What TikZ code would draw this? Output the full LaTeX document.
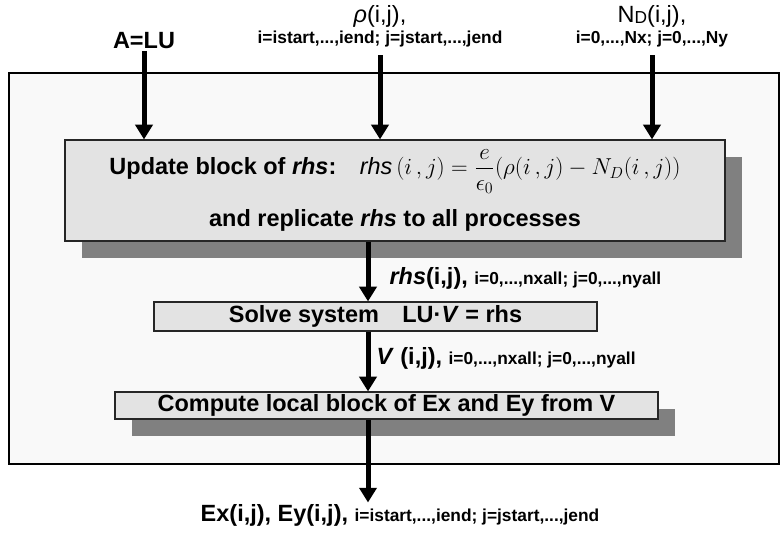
\documentclass[tikz,border=0pt]{standalone}
\usepackage{amsmath}
\usepackage{fontspec}
\setmainfont{Liberation Sans}
\usetikzlibrary{arrows.meta,shadows,positioning}

\newcommand{\bigtxt}{\fontsize{17.6}{20}\selectfont}
\newcommand{\rngtxt}{\fontsize{13}{15}\selectfont}

\begin{document}
\begin{tikzpicture}[x=0.75pt, y=-0.75pt,
    box/.style={draw=black!85, line width=0.9pt, fill=gray!22, inner sep=0pt, font=\bigtxt\bfseries},
    shd/.style={drop shadow={shadow xshift=12.75pt, shadow yshift=-12.75pt, fill=gray, opacity=1}},
    arr/.style={-{Triangle[length=11pt,width=12.75pt]}, line width=3.75pt},
    lbl/.style={font=\bigtxt\bfseries, inner sep=1pt},
    rng/.style={font=\rngtxt\bfseries, inner sep=1pt},
  ]
    \useasboundingbox (0,0) rectangle (780,536);

    % === frame round the parallel part ===
    \draw[line width=1.1pt, fill=gray!5] (9,73) rectangle (779,464);

    % === inputs ===
    \node[lbl] (alu) at (144,41) {A=LU};
    \node[lbl, font=\bigtxt] (rho) at (380,16) {\textit{ρ}(i,j),};
    \node[rng] (rhorng) at (380,39) {i=istart,...,iend; j=jstart,...,jend};
    \node[lbl, font=\bigtxt] (nd) at (652,16) {N{\rngtxt\raisebox{-1pt}{D}}(i,j),};
    \node[rng] (ndrng) at (652,39) {i=0,...,Nx; j=0,...,Ny};

    % === blocks ===
    \node[box, shd, minimum width=495pt, minimum height=75.75pt, align=center] (upd) at (395,190.5)
      {Update block of \textit{rhs}:\hspace{1em}$\mathit{rhs}\,(i\,,j)=\dfrac{e}{\epsilon_0}(\rho(i\,,j)-N_D(i\,,j))$\\[11pt]
       and replicate \textit{rhs} to all processes};
    \node[box, minimum width=332.25pt, minimum height=21.75pt] (solve) at (375.5,316.5)
      {Solve system\quad LU·\textit{V} = rhs};
    \node[box, shd, minimum width=407.25pt, minimum height=20.25pt] (comp) at (386.5,405.5)
      {Compute local block of Ex and Ey from V};

    % === data passed between blocks ===
    \node[lbl, anchor=west] (rhslbl) at (388,278) {\textit{rhs}(i,j), {\rngtxt i=0,...,nxall; j=0,...,nyall}};
    \node[lbl, anchor=west] (vlbl) at (375,358) {\textit{V} (i,j), {\rngtxt i=0,...,nxall; j=0,...,nyall}};
    \node[lbl] (out) at (400,515) {Ex(i,j), Ey(i,j), {\rngtxt i=istart,...,iend; j=jstart,...,jend}};

    % === arrows ===
    \coordinate (spine) at (368,0);
    \draw[arr] (alu.south) -- (alu.south |- upd.north);
    \draw[arr, shorten <=5pt] (rhorng.south) -- (rhorng.south |- upd.north);
    \draw[arr, shorten <=5pt] (ndrng.south) -- (ndrng.south |- upd.north);
    \draw[arr] (upd.south -| spine) -- (solve.north -| spine);
    \draw[arr] (solve.south -| spine) -- (comp.north -| spine);
    \draw[arr] (comp.south -| spine) -- (out.north -| spine);
  \end{tikzpicture}
\end{document}
